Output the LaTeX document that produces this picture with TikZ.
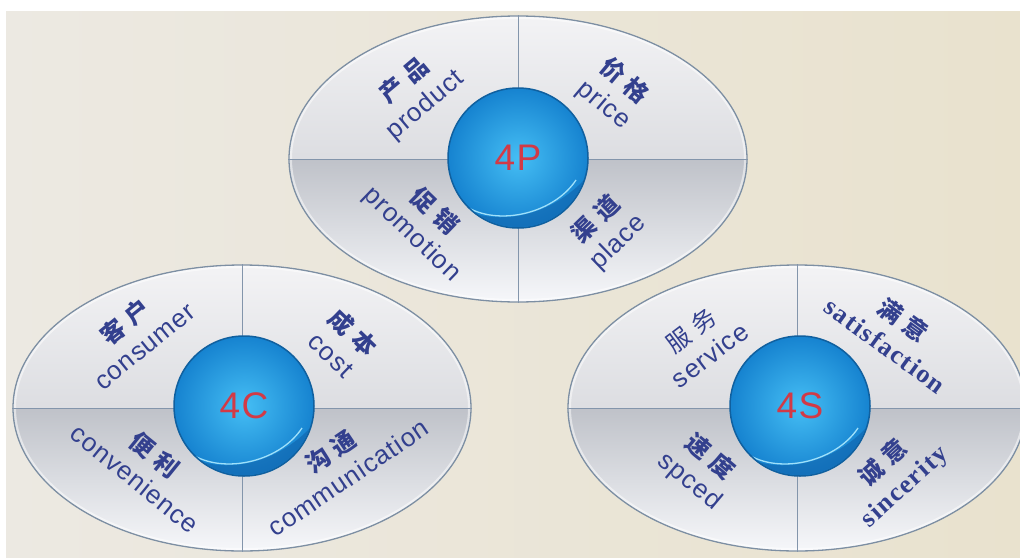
\documentclass[tikz,border=0pt]{standalone}
\usepackage{fontspec}
\setmainfont{Liberation Sans}
\newfontfamily\cjk{Noto Sans CJK SC}
\newfontfamily\ensf{Liberation Sans}[LetterSpace=4]
\newfontfamily\enrm{Liberation Serif}[LetterSpace=6]
\usetikzlibrary{shapes.geometric}
\definecolor{bgL}{HTML}{ECE9E2}
\definecolor{bgR}{HTML}{E9E2CE}
\definecolor{ellline}{HTML}{7D8FA3}
\definecolor{ellhi}{HTML}{F3F3F5}
\definecolor{ellmid}{HTML}{C6C8CE}
\definecolor{ellmidb}{HTML}{BFC2C9}
\definecolor{elllo}{HTML}{F6F7FA}
\definecolor{divline}{HTML}{8395AB}
\definecolor{txt}{HTML}{33408E}
\definecolor{sphin}{HTML}{45BEF4}
\definecolor{sphout}{HTML}{1683D0}
\definecolor{sphrim}{HTML}{10609F}
\definecolor{sphdark}{HTML}{0F5FA8}
\definecolor{sphlight}{HTML}{9FE0FA}
\definecolor{redfour}{HTML}{D23A46}
\tikzset{
  oval/.style={ellipse, draw=ellline, line width=1.3pt, minimum width=458pt, minimum height=286pt, inner sep=0pt,
    path picture={
      \fill[top color=ellhi, bottom color=ellmid] (path picture bounding box.north west) rectangle (path picture bounding box.east);
      \fill[top color=ellmidb, bottom color=elllo] (path picture bounding box.west) rectangle (path picture bounding box.south east);
      \draw[white, line width=6pt, opacity=0.5] (path picture bounding box.center) ellipse [x radius=229pt, y radius=143pt];
    }},
  ball/.style={circle, minimum size=140pt, inner sep=0pt, draw=sphrim, line width=1.5pt,
    inner color=sphin, outer color=sphout, text=redfour, font=\ensf\fontsize{37}{37}\selectfont},
  lab/.style={align=center, text=txt, font=\fontsize{26}{31}\selectfont},
  divider/.style={draw=divline, line width=1pt},
}
\newcommand\zh[2]{{\cjk\fontsize{24}{31}\selectfont #1\hspace{7pt}#2}}
\newcommand\zhb[2]{{\cjk\bfseries\fontsize{24}{31}\selectfont #1\hspace{7pt}#2}}
\newcommand\spherefx[1]{%
  \begin{scope}
    \clip (#1.center) circle (69pt);
    \fill[sphdark, opacity=0.55] ([shift={(-75,40)}]#1.center) .. controls ([shift={(-30,74)}]#1.center) and ([shift={(35,62)}]#1.center) .. ([shift={(75,12)}]#1.center) -- ([shift={(75,80)}]#1.center) -- ([shift={(-75,80)}]#1.center) -- cycle;
    \draw[sphlight, line width=1.3pt] ([shift={(-57,45)}]#1.center) .. controls ([shift={(-25,70)}]#1.center) and ([shift={(35,57)}]#1.center) .. ([shift={(58,22)}]#1.center);
  \end{scope}}
\begin{document}
\begin{tikzpicture}[x=1pt,y=-1pt]
\useasboundingbox (0,0) rectangle (1020,557);
\clip (0,0) rectangle (1020,557);
\fill[white] (0,0) rectangle (1020,557);
\shade[left color=bgL, right color=bgR] (6,11) rectangle (1020,557);

% 4P
\node[oval] (P) at (518,159) {};
\draw[divider] (P.north) -- (P.south);
\draw[divider] (P.west) -- (P.east);
\node[ball] (PB) at (518,158) {4P};
\spherefx{PB}
\node[lab, rotate=40] (p1) at (415,93) {\zhb{产}{品}\\{\ensf product}};
\node[lab, rotate=-40] (p2) at (614,93) {\zhb{价}{格}\\{\ensf price}};
\node[lab, rotate=-44] (p3) at (423,223) {\zhb{促}{销}\\{\ensf promotion}};
\node[lab, rotate=44] (p4) at (607,231) {\zhb{渠}{道}\\{\ensf place}};

% 4C
\node[oval] (C) at (242,408) {};
\draw[divider] (C.north) -- (C.south);
\draw[divider] (C.west) -- (C.east);
\node[ball] (CB) at (244,406) {4C};
\spherefx{CB}
\node[lab, rotate=39] (c1) at (134,333) {\zhb{客}{户}\\{\ensf consumer}};
\node[lab, rotate=-44] (c2) at (343,343) {\zhb{成}{本}\\{\ensf cost}};
\node[lab, rotate=-39] (c3) at (145,466) {\zhb{便}{利}\\{\ensf convenience}};
\node[lab, rotate=34] (c4) at (339,464) {\zhb{沟}{通}\\{\ensf communication}};

% 4S
\node[oval] (S) at (797,408) {};
\draw[divider] (S.north) -- (S.south);
\draw[divider] (S.west) -- (S.east);
\node[ball] (SB) at (800,406) {4S};
\spherefx{SB}
\node[lab, rotate=37] (s1) at (700,342) {\zh{服}{务}\\{\ensf service}};
\node[lab, rotate=-36] (s2) at (895,332) {\zhb{满}{意}\\{\enrm\bfseries satisfaction}};
\node[lab, rotate=-40] (s3) at (700,469) {\zhb{速}{度}\\{\ensf spced}};
\node[lab, rotate=42] (s4) at (894,475) {\zhb{诚}{意}\\{\enrm\bfseries sincerity}};
\end{tikzpicture}
\end{document}
